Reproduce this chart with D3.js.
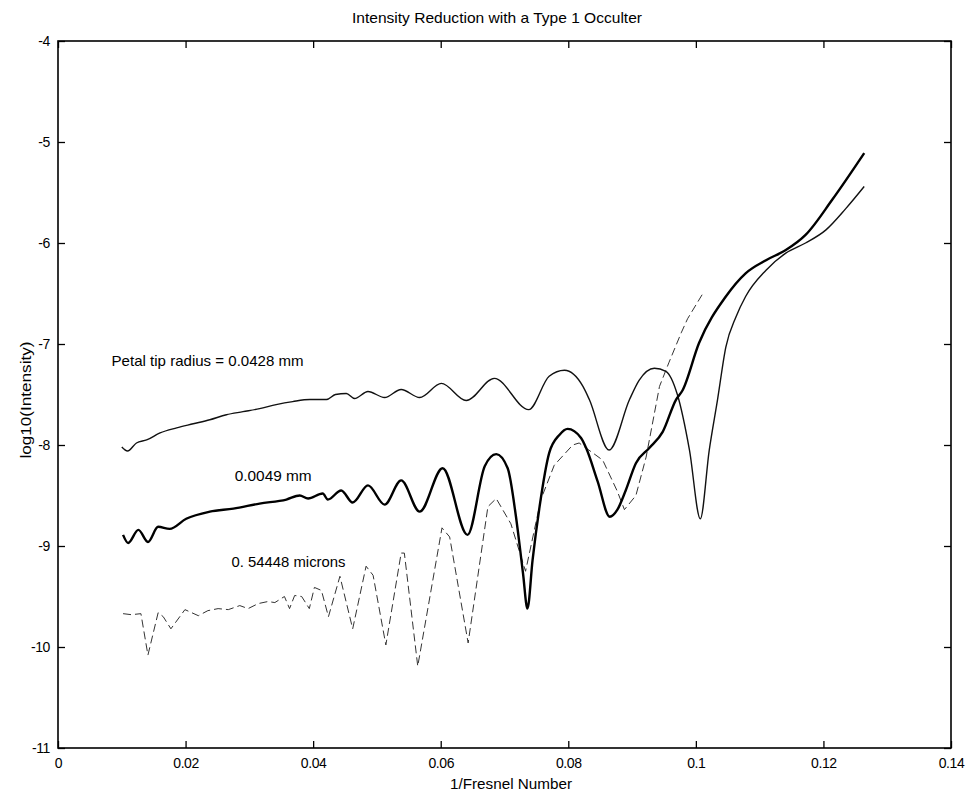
<!DOCTYPE html>
<html><head><meta charset="utf-8">
<script src="https://cdn.jsdelivr.net/npm/d3@7"></script>
<style>body{margin:0;background:#fff}svg{display:block}</style>
</head><body><svg id="c" width="975" height="799"></svg>
<script>
const xTicks = [0, 0.02, 0.04, 0.06, 0.08, 0.1, 0.12, 0.14];
const xTickLabels = ["0", "0.02", "0.04", "0.06", "0.08", "0.1", "0.12", "0.14"];
const yTicks = [-11, -10, -9, -8, -7, -6, -5, -4];
const yTickLabels = ["-11", "-10", "-9", "-8", "-7", "-6", "-5", "-4"];

const titleText = "Intensity Reduction with a Type 1 Occulter";
const xLabelText = "1/Fresnel Number";
const yLabelText = "log10(Intensity)";
const seriesNames = ["Petal tip radius = 0.0428 mm", "0.0049 mm", "0. 54448 microns"];

// Petal tip radius = 0.0428 mm (thin solid)
const seriesA = [
 [0.0100,-8.02],[0.0109,-8.06],[0.0123,-7.98],[0.0139,-7.95],[0.0160,-7.88],[0.0186,-7.83],
 [0.0212,-7.79],[0.0238,-7.75],[0.0264,-7.70],[0.0290,-7.67],[0.0316,-7.64],[0.0342,-7.60],
 [0.0368,-7.57],[0.0395,-7.55],[0.0421,-7.55],[0.0435,-7.50],[0.0452,-7.49],[0.0465,-7.54],
 [0.0486,-7.47],[0.0512,-7.53],[0.0538,-7.45],[0.0567,-7.53],[0.0601,-7.39],[0.0640,-7.56],
 [0.0684,-7.34],[0.0738,-7.65],[0.0770,-7.32],[0.0794,-7.26],[0.0823,-7.42],[0.0833,-7.55],
 [0.0864,-8.05],[0.0896,-7.55],[0.0911,-7.36],[0.0935,-7.24],[0.0953,-7.27],[0.0971,-7.50],
 [0.0990,-8.05],[0.1007,-8.73],[0.1021,-8.05],[0.1034,-7.55],[0.1047,-7.03],[0.1063,-6.73],
 [0.1078,-6.53],[0.1110,-6.27],[0.1141,-6.10],[0.1172,-6.00],[0.1204,-5.87],[0.1235,-5.66],
 [0.1264,-5.44]
];

// 0.0049 mm (thick solid)
const seriesB = [
 [0.0102,-8.89],[0.0110,-8.97],[0.0126,-8.84],[0.0141,-8.96],[0.0157,-8.81],[0.0175,-8.83],
 [0.0201,-8.73],[0.0238,-8.66],[0.0275,-8.63],[0.0316,-8.58],[0.0358,-8.54],[0.0379,-8.50],
 [0.0392,-8.53],[0.0415,-8.48],[0.0423,-8.54],[0.0444,-8.45],[0.0462,-8.57],[0.0486,-8.40],
 [0.0512,-8.59],[0.0538,-8.35],[0.0567,-8.66],[0.0603,-8.23],[0.0642,-8.89],[0.0669,-8.21],
 [0.0687,-8.09],[0.0705,-8.23],[0.0718,-8.71],[0.0729,-9.27],[0.0736,-9.62],[0.0744,-9.14],
 [0.0755,-8.61],[0.0770,-8.08],[0.0786,-7.90],[0.0799,-7.84],[0.0820,-7.93],[0.0828,-8.03],
 [0.0846,-8.36],[0.0865,-8.71],[0.0877,-8.64],[0.0890,-8.45],[0.0906,-8.18],[0.0927,-8.03],
 [0.0948,-7.87],[0.0969,-7.55],[0.0979,-7.46],[0.1005,-6.99],[0.1047,-6.53],[0.1078,-6.30],
 [0.1110,-6.17],[0.1141,-6.07],[0.1172,-5.92],[0.1214,-5.57],[0.1264,-5.11]
];

// 0.54448 microns (thin dashed)
const seriesC = [
 [0.0102,-9.67],[0.0115,-9.68],[0.0130,-9.67],[0.0141,-10.08],[0.0157,-9.66],[0.0165,-9.70],
 [0.0177,-9.82],[0.0199,-9.63],[0.0220,-9.69],[0.0235,-9.64],[0.0251,-9.62],[0.0267,-9.63],
 [0.0285,-9.59],[0.0298,-9.62],[0.0314,-9.57],[0.0329,-9.55],[0.0340,-9.56],[0.0355,-9.50],
 [0.0363,-9.62],[0.0371,-9.49],[0.0382,-9.50],[0.0394,-9.62],[0.0402,-9.41],[0.0413,-9.44],
 [0.0424,-9.70],[0.0442,-9.30],[0.0462,-9.82],[0.0483,-9.20],[0.0494,-9.29],[0.0514,-9.98],
 [0.0538,-9.07],[0.0543,-9.07],[0.0564,-10.19],[0.0602,-8.82],[0.0614,-8.91],[0.0643,-9.96],
 [0.0674,-8.61],[0.0687,-8.53],[0.0710,-8.78],[0.0733,-9.25],[0.0757,-8.54],[0.0778,-8.20],
 [0.0807,-8.00],[0.0817,-7.98],[0.0854,-8.15],[0.0877,-8.46],[0.0888,-8.64],[0.0906,-8.50],
 [0.0922,-8.12],[0.0943,-7.42],[0.0958,-7.18],[0.0977,-6.89],[0.0987,-6.75],[0.1010,-6.51]
];

const svg = d3.select("#c");
const L = 58, R = 951, T = 41, B = 748;
const x = d3.scaleLinear().domain([0, 0.14]).range([L, R]);
const y = d3.scaleLinear().domain([-11, -4]).range([B, T]);
const font = "'Liberation Sans', Arial, sans-serif";

// frame
svg.append("rect").attr("x", L).attr("y", T).attr("width", R - L).attr("height", B - T)
  .attr("fill", "none").attr("stroke", "#000").attr("stroke-width", 1.6);

const tl = 7;
const fmtX = (d, i) => xTickLabels[i];
const fmtY = (d, i) => yTickLabels[i];
const axB = svg.append("g").attr("transform", `translate(0,${B})`)
  .call(d3.axisBottom(x).tickValues(xTicks).tickFormat(fmtX).tickSizeInner(-tl).tickSizeOuter(0).tickPadding(10));
const axT = svg.append("g").attr("transform", `translate(0,${T})`)
  .call(d3.axisTop(x).tickValues(xTicks).tickFormat("").tickSizeInner(-tl).tickSizeOuter(0));
const axL = svg.append("g").attr("transform", `translate(${L},0)`)
  .call(d3.axisLeft(y).tickValues(yTicks).tickFormat(fmtY).tickSizeInner(-tl).tickSizeOuter(0).tickPadding(8));
const axR = svg.append("g").attr("transform", `translate(${R},0)`)
  .call(d3.axisRight(y).tickValues(yTicks).tickFormat("").tickSizeInner(-tl).tickSizeOuter(0));
[axB, axT, axL, axR].forEach(g => {
  g.select(".domain").remove();
  g.selectAll("line").attr("stroke", "#000").attr("stroke-width", 1.3);
  g.selectAll("text").attr("font-family", font).attr("font-size", 14).attr("fill", "#000")
    .attr("letter-spacing", "-0.4px");
});

// curves
const lineSmooth = d3.line().x(d => x(d[0])).y(d => y(d[1])).curve(d3.curveMonotoneX);
const lineLin = d3.line().x(d => x(d[0])).y(d => y(d[1]));
svg.append("path").datum(seriesC).attr("d", lineLin).attr("fill", "none")
  .attr("stroke", "#333").attr("stroke-width", 1).attr("stroke-dasharray", "8,4");
svg.append("path").datum(seriesA).attr("d", lineSmooth).attr("fill", "none")
  .attr("stroke", "#111").attr("stroke-width", 1.4);
svg.append("path").datum(seriesB).attr("d", lineSmooth).attr("fill", "none")
  .attr("stroke", "#000").attr("stroke-width", 2.4);

// series labels
const labelPos = [[x(0.0084), y(-7.22), 192], [x(0.0277), y(-8.36), 77], [x(0.0272), y(-9.21), 114]];
seriesNames.forEach((t, i) => {
  svg.append("text").attr("x", labelPos[i][0]).attr("y", labelPos[i][1]).text(t)
    .attr("font-family", font).attr("font-size", 15).attr("fill", "#000")
    .attr("textLength", labelPos[i][2]).attr("lengthAdjust", "spacingAndGlyphs");
});

// titles
svg.append("text").attr("x", 497).attr("y", 23).attr("text-anchor", "middle")
  .attr("font-family", font).attr("font-size", 15)
  .attr("textLength", 290).attr("lengthAdjust", "spacingAndGlyphs").text(titleText);
svg.append("text").attr("x", 511).attr("y", 789).attr("text-anchor", "middle")
  .attr("font-family", font).attr("font-size", 15)
  .attr("textLength", 122).attr("lengthAdjust", "spacingAndGlyphs").text(xLabelText);
svg.append("text").attr("transform", `translate(31,400) rotate(-90)`).attr("text-anchor", "middle")
  .attr("font-family", font).attr("font-size", 15)
  .attr("textLength", 117).attr("lengthAdjust", "spacingAndGlyphs").text(yLabelText);
</script></body></html>
